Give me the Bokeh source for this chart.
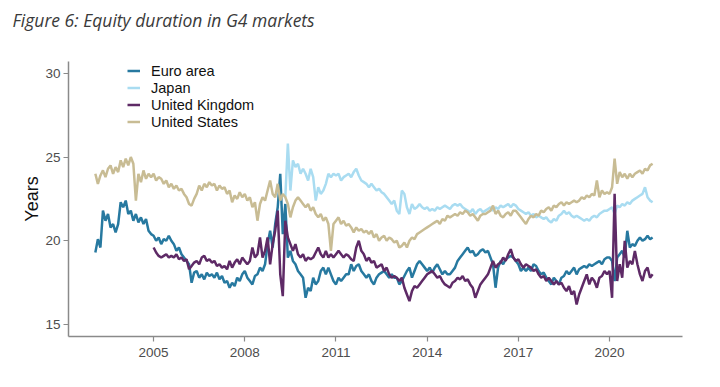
from bokeh.plotting import figure
from bokeh.models import Range1d, FixedTicker, Legend, LegendItem, Title, LinearAxis
from bokeh.embed import file_html
from bokeh.resources import INLINE

# ---- data (monthly readings, decimal years) ----
ea_start = 2003 + 1/12
ea = [19.3, 20.1, 19.6, 21.8, 21.2, 21.6, 20.8, 21.0, 20.5, 21.0, 22.3,
      22.0, 22.4, 21.6, 21.8, 21.2, 21.6, 21.1, 21.4, 21.0, 21.3, 20.6, 20.4,
      20.3, 20.0, 20.2, 19.8, 20.1, 20.0, 20.3, 20.0, 19.8, 19.4, 19.6, 19.2,
      19.0, 18.8, 18.6, 17.5, 18.1, 18.2, 17.8, 18.0, 17.7, 18.1, 17.9, 18.0,
      17.8, 18.1, 17.7, 17.9, 17.5, 17.6, 17.2, 17.5, 17.3, 17.8, 17.6, 18.0,
      18.2, 17.8, 17.6, 17.4, 17.9, 18.0, 18.4, 18.2, 18.6, 19.8, 20.6, 19.6,
      21.0, 22.0, 24.0, 20.4, 22.2, 19.0, 19.4, 18.8, 18.6, 18.2, 18.0, 17.8,
      16.6, 17.2, 17.0, 17.8, 17.4, 17.6, 18.2, 18.4, 18.0, 18.4, 18.0, 17.6,
      17.4, 17.8, 17.6, 17.8, 18.0, 18.0, 18.6, 18.2, 18.5, 18.6, 18.2, 18.0,
      17.8, 18.0, 17.6, 17.4, 17.8, 18.0, 18.1, 18.2, 18.0, 17.8, 18.0, 17.8,
      17.8, 17.4, 17.6, 17.9, 18.2, 18.4, 17.8, 18.2, 18.6, 18.8, 18.6, 18.4,
      18.2, 18.4, 18.1, 18.4, 18.6, 18.3, 18.0, 18.2, 18.0, 18.0, 18.2, 18.4,
      18.8, 19.0, 19.2, 19.4, 19.6, 19.3, 19.4, 19.1, 19.2, 19.4, 19.5, 19.3,
      19.4, 19.0, 18.6, 17.2, 18.4, 18.8, 18.6, 18.9, 19.0, 19.1, 19.0, 18.8,
      18.6, 18.2, 18.4, 18.2, 18.4, 18.2, 18.6, 18.5, 18.2, 18.0, 18.1, 17.8,
      17.6, 17.4, 17.8, 17.6, 17.4, 17.8, 17.9, 18.2, 18.0, 18.2, 18.4, 18.0,
      18.3, 18.4, 18.5, 18.4, 18.6, 18.5, 18.6, 18.7, 18.8, 18.6, 18.9, 19.0,
      19.0, 18.8, 17.6, 19.0, 19.2, 19.4, 19.0, 20.6, 19.6, 19.8, 19.7, 20.0,
      20.2, 20.0, 20.1, 20.3, 20.1, 20.2]

jp_start = 2009 + 4/12
jp = [22.6, 25.8, 23.0, 24.8, 24.4, 24.6, 24.0, 24.3,
      24.0, 23.6, 24.3, 23.8, 22.4, 23.2, 22.8, 23.0, 23.4, 24.0, 23.8, 24.0,
      23.9, 24.0, 23.6, 23.8, 23.9, 24.0, 23.8, 24.1, 24.3, 23.9, 23.6, 23.5,
      23.4, 23.2, 23.4, 23.2, 23.0, 23.1, 22.9, 22.8, 22.6, 22.4, 22.2, 22.4,
      21.8, 21.6, 23.0, 22.8, 22.0, 21.6, 22.2, 21.9, 22.0, 22.2, 22.0, 21.9,
      22.0, 21.8, 21.9, 21.8, 22.0, 21.9, 22.0, 22.1, 22.0, 21.9, 22.1, 22.2,
      22.1, 22.2, 22.0, 21.9, 21.8, 21.7, 21.9, 21.6, 21.8, 21.9, 21.7, 21.8,
      21.9, 22.0, 21.8, 22.0, 21.9, 22.1, 22.0, 22.1, 22.2, 22.0, 22.2, 22.1,
      21.9, 21.8, 21.7, 21.6, 21.7, 21.5, 21.6, 21.4, 21.5, 21.4, 21.3, 21.4,
      21.2, 21.1, 21.3, 21.2, 21.5, 21.6, 21.8, 21.6, 21.7, 21.5, 21.4, 21.5,
      21.4, 21.3, 21.2, 21.3, 21.2, 21.4, 21.5, 21.4, 21.6, 21.7, 21.8, 21.8,
      21.9, 22.0, 21.6, 22.1, 22.0, 22.2, 22.1, 22.3, 22.2, 22.4, 22.5, 22.6,
      22.7, 22.8, 23.2, 22.6, 22.4, 22.3]

uk_start = 2005.0
uk = [19.6, 19.3, 19.1, 19.0, 19.1, 19.2, 19.0, 19.1, 19.0, 19.2, 18.9, 19.0,
      18.8, 18.9, 18.3, 18.5, 18.7, 18.8, 18.6, 19.0, 19.1, 18.8, 18.9, 18.7,
      18.8, 18.5, 18.6, 18.4, 18.5, 18.3, 18.8, 18.4, 18.7, 18.9, 18.6, 19.0,
      18.8, 18.6, 18.8, 19.6, 19.0, 19.2, 20.2, 19.0, 19.4, 20.2, 18.6, 19.8,
      20.6, 21.8, 18.0, 16.7, 21.2, 20.2, 19.8, 19.4, 19.8, 19.2, 19.0, 19.2,
      18.8, 19.0, 18.9, 19.0, 19.3, 19.6, 19.2, 19.0, 19.4, 19.0, 19.2, 19.0,
      19.2, 19.4, 19.2, 19.0, 19.2, 19.1, 18.9, 18.8, 19.6, 20.0, 19.4, 19.2,
      18.8, 19.0, 18.7, 18.8, 18.4, 18.5, 18.6, 18.2, 18.4, 18.0, 17.8, 17.9,
      17.8, 17.6, 17.8, 17.2, 16.8, 16.4, 17.0, 17.3, 17.2, 17.4, 17.6, 17.8,
      18.0, 18.1, 18.2, 18.0, 17.8, 17.9, 17.6, 17.4, 17.3, 17.2, 17.5, 17.6,
      17.8, 17.7, 17.9, 17.6, 17.7, 17.4, 17.2, 16.6, 17.0, 17.4, 17.6, 17.8,
      18.0, 18.4, 18.8, 18.4, 18.6, 18.7, 19.0, 18.8, 19.2, 19.5, 19.0, 18.8,
      18.9, 18.6, 18.4, 18.6, 18.5, 18.4, 18.2, 18.3, 18.0, 17.8, 17.9, 17.6,
      17.8, 17.6, 17.4, 17.6, 17.4, 17.5, 17.2, 17.0, 17.3, 16.8, 17.0, 16.2,
      16.8, 17.2, 17.6, 18.0, 17.4, 17.8, 17.6, 17.2, 17.8, 17.9, 18.2, 18.0,
      18.2, 16.6, 22.8, 17.6, 18.6, 17.8, 20.0, 18.4, 18.8, 18.6, 19.4, 18.6,
      18.0, 17.6, 18.2, 18.4, 17.8, 18.0]

us_start = 2003 + 1/12
us = [24.0, 23.4, 23.9, 24.2, 23.8, 24.3, 24.5, 24.0, 24.4, 24.1, 24.8,
      24.4, 24.9, 24.5, 25.0, 24.6, 22.4, 24.0, 23.5, 24.2, 23.7, 24.0, 23.8,
      24.0, 23.6, 23.8, 23.7, 23.4, 23.6, 23.2, 23.4, 23.1, 23.3, 23.0, 23.1,
      22.8, 22.6, 22.2, 22.1, 22.5, 22.8, 23.3, 23.0, 23.4, 23.2, 23.5, 23.3,
      23.4, 23.0, 23.3, 23.1, 23.2, 22.8, 23.0, 22.3, 22.7, 22.5, 22.9, 22.6,
      22.8, 22.4, 22.6, 22.0, 22.3, 21.2, 22.2, 22.6, 22.4, 23.0, 23.6, 22.8,
      22.6, 23.4, 22.4, 22.8, 22.6, 22.2, 21.4, 22.0, 22.4, 22.6, 22.4, 22.2,
      22.0, 22.2, 21.8, 22.0, 21.6, 21.4, 21.6, 21.2, 21.4, 21.0, 19.4, 21.0,
      21.2, 21.4, 21.0, 21.2, 20.9, 21.0, 20.8, 20.5, 20.8, 20.6, 20.7, 20.5,
      20.6, 20.4, 20.6, 20.2, 20.4, 20.0, 20.2, 20.3, 20.0, 20.2, 20.1, 19.9,
      20.0, 19.6, 19.7, 19.9, 19.6, 20.0, 20.2, 20.1, 20.4, 20.5, 20.6, 20.7,
      20.8, 20.9, 21.0, 21.1, 21.2, 21.0, 21.3, 21.2, 21.5, 21.4, 21.5, 21.6,
      21.5, 21.7, 21.6, 21.8, 21.7, 21.5, 21.6, 21.4, 21.2, 21.5, 21.6, 21.6,
      21.7, 21.8, 22.1, 21.6, 21.8, 21.5, 21.4, 21.6, 21.7, 21.5, 21.8, 21.8,
      21.6, 21.4, 21.2, 21.0, 21.3, 21.5, 21.4, 21.6, 21.5, 21.8, 21.7, 21.9,
      22.0, 21.8, 22.1, 22.0, 22.2, 22.3, 22.1, 22.3, 22.2, 22.3, 22.4, 22.3,
      22.4, 22.6, 22.5, 22.7, 22.6, 22.8, 22.7, 23.6, 22.6, 23.0, 22.8, 22.9,
      22.8, 23.2, 24.9, 23.4, 24.1, 23.8, 24.0, 23.7, 24.0, 23.8, 24.0, 24.1,
      24.2, 24.0, 24.3, 24.2, 24.5, 24.6]

names = ["Euro area", "Japan", "United Kingdom", "United States"]
colors = ["#2779a0", "#a9dcf1", "#5e2a66", "#c8bc94"]
x_ticks = [2005, 2008, 2011, 2014, 2017, 2020]
y_ticks = [15, 20, 25, 30]
title_text = "Figure 6: Equity duration in G4 markets"


def months(start, vals):
    return [start + i / 12 for i in range(len(vals))]


W, H = 704, 371
BOTTOM, LEFT, RIGHT = 35, 68, 22
p = figure(width=W, height=H, output_backend="svg", toolbar_location=None,
           x_range=Range1d(2002.2, 2022.4), y_range=Range1d(14.29, 30.7),
           min_border_left=LEFT, min_border_right=RIGHT, min_border_top=0,
           min_border_bottom=BOTTOM)
p.background_fill_color = "white"
p.border_fill_color = "white"
p.outline_line_color = None
p.xgrid.visible = False
p.ygrid.visible = False

p.title = Title(text=title_text, align="left", vertical_align="top",
                offset=12 - LEFT, text_font="Open Sans", text_font_style="italic",
                text_font_size="17.5px", text_color="#3a3a3a", standoff=14)

# blank axis above the frame: keeps a gap between the title and the plotting area
spacer = LinearAxis(ticker=FixedTicker(ticks=[]), axis_line_color=None,
                    major_tick_line_color=None, minor_tick_line_color=None,
                    major_tick_out=0, major_tick_in=0, major_label_standoff=0,
                    axis_label="|", axis_label_text_alpha=0,
                    axis_label_text_font_size="12px", axis_label_standoff=4)
p.add_layout(spacer, "above")

series = [(ea_start, ea), (jp_start, jp), (uk_start, uk), (us_start, us)]
renderers = []
for (st, vals), c in zip(series, colors):
    r = p.line(months(st, vals), vals, line_color=c, line_width=2.5)
    renderers.append(r)

xax = p.below[0]
yax = p.left[0]
for ax in (xax, yax):
    ax.axis_line_color = "#8a8a8a"
    ax.axis_line_width = 1.5
    ax.major_tick_line_color = "#8a8a8a"
    ax.major_tick_line_width = 1.2
    ax.major_tick_out = 5
    ax.major_tick_in = 0
    ax.minor_tick_line_color = None
    ax.major_label_text_font = "Liberation Sans"
    ax.major_label_text_font_size = "13.5px"
    ax.major_label_text_color = "#4d4d4d"

xax.ticker = FixedTicker(ticks=x_ticks)
yax.ticker = FixedTicker(ticks=y_ticks)
xax.major_label_standoff = 6
yax.major_label_standoff = 3
yax.axis_label = "Years"
yax.axis_label_text_font = "Liberation Sans"
yax.axis_label_text_font_size = "18px"
yax.axis_label_text_font_style = "normal"
yax.axis_label_text_color = "#111111"
yax.axis_label_standoff = 0

legend = Legend(items=[LegendItem(label=n, renderers=[r]) for n, r in zip(names, renderers)],
                location=(59, 206), padding=0, spacing=0, margin=0,
                label_height=17, glyph_height=17, glyph_width=13, label_standoff=11,
                label_text_font="Liberation Sans", label_text_font_size="14.5px",
                label_text_color="#111111", background_fill_alpha=0,
                border_line_color=None)
p.add_layout(legend)

open("out.html", "w").write(file_html(p, INLINE))
